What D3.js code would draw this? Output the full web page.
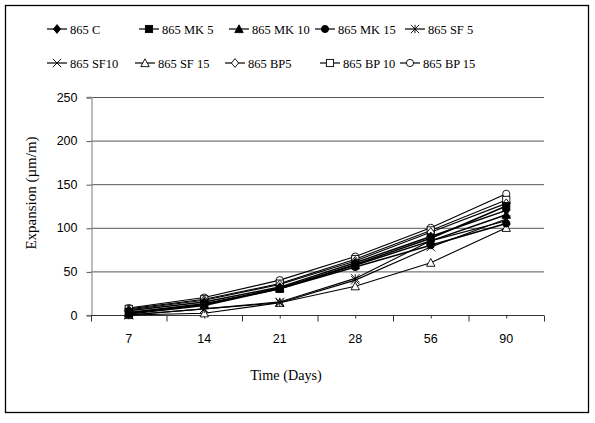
<!DOCTYPE html>
<html>
<head>
<meta charset="utf-8">
<script src="https://cdn.jsdelivr.net/npm/d3@7"></script>
<style>
  html, body { margin: 0; padding: 0; background: #fff; }
  svg { display: block; }
</style>
</head>
<body>
<svg id="chart" width="595" height="423"></svg>
<script>
// Expansion over time for each mix
const days = ["7", "14", "21", "28", "56", "90"];
const seriesNames = ["865 C", "865 MK 5", "865 MK 10", "865 MK 15", "865 SF 5",
                     "865 SF10", "865 SF 15", "865 BP5", "865 BP 10", "865 BP 15"];
const c865     = [5, 15, 32, 60, 90, 120];
const mk5      = [3, 13, 30, 58, 88, 125];
const mk10     = [2, 12, 31, 57, 85, 115];
const mk15     = [1, 11, 30, 55, 80, 105];
const sf5      = [0, 7, 15, 42, 85, 108];
const sf10     = [0, 7, 14, 40, 78, 110];
const sf15     = [0, 2, 14, 33, 60, 100];
const bp5      = [6, 17, 35, 62, 95, 128];
const bp10     = [7, 18, 36, 64, 97, 132];
const bp15     = [8, 20, 40, 67, 100, 139];
const yTicks   = [0, 50, 100, 150, 200, 250];

const seriesValues = [c865, mk5, mk10, mk15, sf5, sf10, sf15, bp5, bp10, bp15];
const markerKinds = ["diamondF", "squareF", "triangleF", "circleF", "asterisk",
                     "cross", "triangleO", "diamondO", "squareO", "circleO"];

const svg = d3.select("#chart");
const serif = "'Liberation Serif', 'Times New Roman', serif";
const sans = "'Liberation Sans', Arial, sans-serif";

// outer frame
svg.append("rect").attr("x", 5.5).attr("y", 5.5).attr("width", 583).attr("height", 407)
  .attr("fill", "none").attr("stroke", "#000").attr("stroke-width", 1.3);

const plot = { left: 91, right: 544, top: 97, bottom: 315 };

const x = d3.scaleBand().domain(days).range([plot.left, plot.right]);
const y = d3.scaleLinear().domain([0, 250]).range([plot.bottom, plot.top]);

// horizontal gridlines
svg.append("g").selectAll("line").data(yTicks.filter(t => t > 0)).join("line")
  .attr("x1", plot.left).attr("x2", plot.right)
  .attr("y1", d => y(d) + 0.5).attr("y2", d => y(d) + 0.5)
  .attr("stroke", "#555").attr("stroke-width", 1);

// y axis
const yAxis = svg.append("g").attr("transform", `translate(${plot.left + 0.5},0)`)
  .call(d3.axisLeft(y).tickValues(yTicks).tickSize(5).tickPadding(9));
yAxis.select(".domain").attr("stroke", "#999").attr("stroke-width", 1.3);
yAxis.selectAll(".tick line").attr("stroke", "#555").attr("transform", "translate(0,0.5)");
yAxis.selectAll("text").attr("font-family", sans).attr("font-size", 12.5).attr("fill", "#000");

// x axis: ticks at category boundaries
const xAxisG = svg.append("g").attr("transform", `translate(0,${plot.bottom + 0.5})`);
xAxisG.append("line").attr("x1", plot.left).attr("x2", plot.right)
  .attr("y1", 0).attr("y2", 0).attr("stroke", "#333").attr("stroke-width", 1.2);
const bounds = days.map(d => x(d)).concat([plot.right]);
xAxisG.selectAll("line.tk").data(bounds).join("line").attr("class", "tk")
  .attr("x1", d => d + 0.5).attr("x2", d => d + 0.5).attr("y1", 0).attr("y2", 6)
  .attr("stroke", "#333");
xAxisG.selectAll("line.mt").data(days).join("line").attr("class", "mt")
  .attr("x1", d => x(d) + x.bandwidth() / 2 + 0.5).attr("x2", d => x(d) + x.bandwidth() / 2 + 0.5)
  .attr("y1", 0).attr("y2", 3).attr("stroke", "#333");
xAxisG.selectAll("text").data(days).join("text")
  .attr("x", d => x(d) + x.bandwidth() / 2).attr("y", 27)
  .attr("text-anchor", "middle").attr("font-family", sans).attr("font-size", 12.5)
  .text(d => d);

// axis titles
svg.append("text").attr("transform", "translate(36,193) rotate(-90)")
  .attr("text-anchor", "middle").attr("font-family", serif).attr("font-size", 15)
  .text("Expansion (µm/m)");
svg.append("text").attr("x", 286).attr("y", 380)
  .attr("text-anchor", "middle").attr("font-family", serif).attr("font-size", 14.2)
  .text("Time (Days)");

// marker drawing
function drawMarker(g, kind, cx, cy) {
  const s = 3.6;
  const filled = kind.endsWith("F");
  const fill = filled ? "#000" : "#fff";
  const base = kind.replace(/[FO]$/, "");
  if (base === "diamond") {
    g.append("path").attr("d", `M${cx},${cy - s - 0.8}L${cx + s},${cy}L${cx},${cy + s + 0.8}L${cx - s},${cy}Z`)
      .attr("fill", fill).attr("stroke", "#000").attr("stroke-width", 0.9);
  } else if (base === "square") {
    g.append("rect").attr("x", cx - s).attr("y", cy - s).attr("width", 2 * s).attr("height", 2 * s)
      .attr("fill", fill).attr("stroke", "#000").attr("stroke-width", 0.9);
  } else if (base === "triangle") {
    g.append("path").attr("d", `M${cx},${cy - s - 0.6}L${cx + s + 0.6},${cy + s}L${cx - s - 0.6},${cy + s}Z`)
      .attr("fill", fill).attr("stroke", "#000").attr("stroke-width", 0.9);
  } else if (base === "circle") {
    g.append("circle").attr("cx", cx).attr("cy", cy).attr("r", s)
      .attr("fill", fill).attr("stroke", "#000").attr("stroke-width", 0.9);
  } else if (base === "asterisk") {
    const r = s + 0.6;
    g.append("path").attr("d",
      `M${cx - r},${cy - r}L${cx + r},${cy + r}M${cx - r},${cy + r}L${cx + r},${cy - r}M${cx},${cy - r}L${cx},${cy + r}`)
      .attr("stroke", "#000").attr("stroke-width", 0.9).attr("fill", "none");
  } else if (base === "cross") {
    const r = s + 0.6;
    g.append("path").attr("d", `M${cx - r},${cy - r}L${cx + r},${cy + r}M${cx - r},${cy + r}L${cx + r},${cy - r}`)
      .attr("stroke", "#000").attr("stroke-width", 0.9).attr("fill", "none");
  }
}

// series lines and markers (drawn last-to-first so filled markers stay on top)
const line = d3.line().x((d, i) => x(days[i]) + x.bandwidth() / 2).y(d => y(d));
const seriesG = svg.append("g");
for (let k = seriesValues.length - 1; k >= 0; k--) {
  const g = seriesG.append("g");
  g.append("path").attr("d", line(seriesValues[k])).attr("fill", "none")
    .attr("stroke", "#000").attr("stroke-width", k < 4 ? 1.5 : 1.1);
  seriesValues[k].forEach((v, i) => drawMarker(g, markerKinds[k], x(days[i]) + x.bandwidth() / 2, y(v)));
}

// legend: text start positions per entry; the sample line sits just before each label
const legendPos = [[70, 29], [162, 29], [252, 29], [338, 29], [428, 29],
                   [70, 63], [158, 63], [248, 63], [343, 63], [423, 63]];
seriesNames.forEach((name, k) => {
  const [tx, ly] = legendPos[k];
  const g = svg.append("g");
  g.append("line").attr("x1", tx - 23).attr("x2", tx - 3).attr("y1", ly).attr("y2", ly)
    .attr("stroke", "#000").attr("stroke-width", 1.2);
  drawMarker(g, markerKinds[k], tx - 13, ly);
  g.append("text").attr("x", tx).attr("y", ly + 4.5)
    .attr("font-family", serif).attr("font-size", 12.5).text(name);
});
</script>
</body>
</html>
